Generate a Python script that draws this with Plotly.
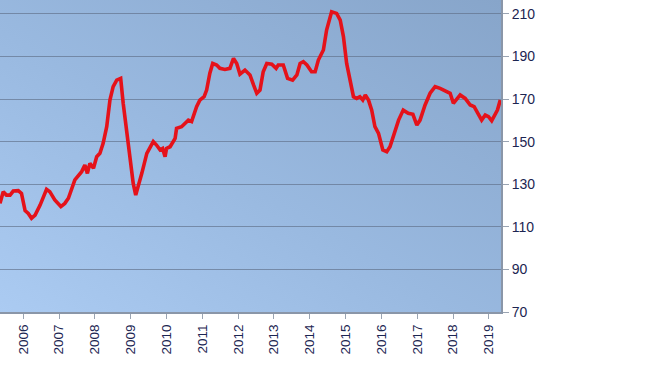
import base64
import plotly.graph_objects as go

# Decimal-year positions and index values
years = [2005.35, 2005.44, 2005.53, 2005.63, 2005.72, 2005.86, 2005.95, 2006.05, 2006.14, 2006.23,
         2006.33, 2006.47, 2006.65, 2006.74, 2006.88, 2007.05, 2007.16, 2007.26, 2007.44, 2007.63,
         2007.72, 2007.79, 2007.86, 2007.96, 2008.05, 2008.14, 2008.23, 2008.33, 2008.42, 2008.51,
         2008.61, 2008.72, 2008.79, 2008.89, 2008.98, 2009.07, 2009.14, 2009.21, 2009.31, 2009.45,
         2009.63, 2009.72, 2009.82, 2009.89, 2009.96, 2010.00, 2010.10, 2010.24, 2010.28, 2010.42,
         2010.52, 2010.61, 2010.70, 2010.84, 2010.93, 2011.05, 2011.12, 2011.21, 2011.29, 2011.40,
         2011.49, 2011.63, 2011.77, 2011.87, 2011.96, 2012.05, 2012.19, 2012.33, 2012.43, 2012.52,
         2012.61, 2012.70, 2012.80, 2012.94, 2013.06, 2013.12, 2013.26, 2013.38, 2013.52, 2013.64,
         2013.73, 2013.82, 2013.92, 2014.05, 2014.15, 2014.24, 2014.38, 2014.47, 2014.61, 2014.75,
         2014.85, 2014.94, 2015.03, 2015.13, 2015.22, 2015.31, 2015.40, 2015.48, 2015.55, 2015.64,
         2015.73, 2015.82, 2015.92, 2016.04, 2016.15, 2016.24, 2016.38, 2016.48, 2016.61, 2016.75,
         2016.88, 2016.99, 2017.08, 2017.22, 2017.36, 2017.50, 2017.64, 2017.78, 2017.92, 2018.01,
         2018.11, 2018.20, 2018.34, 2018.48, 2018.59, 2018.68, 2018.80, 2018.90, 2018.99, 2019.08,
         2019.18, 2019.24, 2019.32]
values = [121.0, 126.5, 124.9, 124.9, 126.8, 127.0, 125.7, 117.6, 116.3, 114.0,
          115.5, 120.2, 127.6, 126.5, 122.6, 119.5, 121.0, 123.4, 132.0, 135.9,
          139.0, 135.1, 139.8, 137.5, 142.9, 144.5, 149.2, 157.0, 169.5, 175.8,
          178.9, 179.7, 168.0, 153.9, 141.4, 130.4, 124.9, 128.8, 135.1, 144.5,
          150.0, 148.4, 146.1, 146.8, 142.9, 146.8, 147.6, 151.5, 156.2, 157.0,
          158.6, 160.1, 159.4, 166.4, 169.5, 171.1, 174.2, 182.1, 186.7, 186.0,
          184.4, 183.9, 184.4, 189.1, 186.7, 181.7, 183.6, 181.3, 176.6, 172.7,
          174.2, 182.8, 186.7, 186.4, 184.4, 186.0, 186.0, 179.7, 178.9, 181.3,
          186.7, 187.5, 186.0, 182.8, 182.8, 188.3, 193.0, 202.4, 211.0, 210.2,
          207.1, 199.3, 186.7, 177.4, 171.1, 170.3, 171.1, 169.5, 171.9, 169.5,
          164.8, 157.0, 153.9, 146.1, 145.3, 147.6, 154.7, 160.1, 164.8, 163.3,
          162.8, 157.8, 160.1, 167.2, 172.7, 175.8, 175.0, 173.8, 172.7, 168.0,
          170.3, 171.9, 170.3, 167.2, 166.4, 163.3, 160.1, 162.5, 161.7, 159.8,
          162.5, 164.8, 169.5]

tick_years = list(range(2006, 2020))
tick_labels = [str(y) for y in tick_years]
y_ticks = [70, 90, 110, 130, 150, 170, 190, 210]

svg = (
    '<svg xmlns="http://www.w3.org/2000/svg" width="500" height="300" '
    'viewBox="0 0 500 300" preserveAspectRatio="none">'
    '<defs><linearGradient id="g" x1="0" y1="1" x2="1" y2="0">'
    '<stop offset="0" stop-color="#abcbf2"/>'
    '<stop offset="0.45" stop-color="#99b9e0"/>'
    '<stop offset="1" stop-color="#87a5ca"/>'
    '</linearGradient></defs>'
    '<rect width="500" height="300" fill="url(#g)"/></svg>'
)
src = "data:image/svg+xml;base64," + base64.b64encode(svg.encode()).decode()

fig = go.Figure()
fig.add_trace(go.Scatter(
    x=years, y=values, mode="lines",
    line=dict(color="#e5121a", width=3.6),
    hoverinfo="skip", showlegend=False,
))

fig.add_layout_image(dict(
    source=src, xref="paper", yref="paper", x=0, y=1,
    sizex=1, sizey=1, sizing="stretch", layer="below",
    xanchor="left", yanchor="top",
))

text_color = "#1c2552"
fig.update_layout(
    width=650, height=366,
    margin=dict(l=0, r=149, t=0, b=54),
    paper_bgcolor="white",
    plot_bgcolor="rgba(0,0,0,0)",
    font=dict(family="Liberation Sans, Arial, sans-serif", color=text_color),
    xaxis=dict(
        range=[2005.35, 2019.34],
        tickmode="array", tickvals=tick_years, ticktext=tick_labels,
        tickangle=-90, tickfont=dict(size=13.5, color=text_color),
        ticks="outside", ticklen=5, tickcolor="#9aa4b2",
        showgrid=False, zeroline=False,
        showline=True, linecolor="#8a96a8", linewidth=2,
    ),
    yaxis=dict(
        range=[70, 216.5], side="right",
        tickmode="array", tickvals=y_ticks,
        tickfont=dict(size=14, color=text_color),
        ticks="outside", ticklen=6, tickcolor="#9aa4b2",
        showgrid=True, gridcolor="rgba(95,110,135,0.65)", gridwidth=1,
        zeroline=False,
        showline=True, linecolor="#8a96a8", linewidth=2,
    ),
)

fig.write_html(
    "out.html",
    config={"displayModeBar": False, "staticPlot": True},
    post_script="document.body.style.margin='0';document.body.style.overflow='hidden';",
)
